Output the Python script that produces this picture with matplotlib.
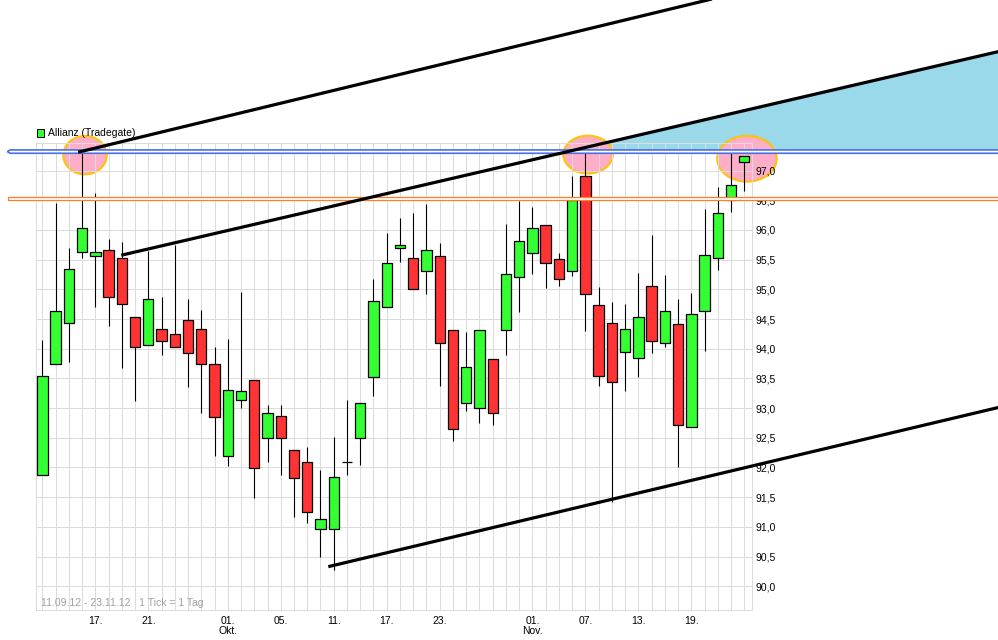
import matplotlib
matplotlib.use("Agg")
import matplotlib.pyplot as plt
from matplotlib.patches import Rectangle, Ellipse, Polygon
import numpy as np

# ---- Allianz (Tradegate), daily candles 11.09.12 - 23.11.12 ----
dates = [
    "11.09.", "12.09.", "13.09.", "14.09.", "17.09.", "18.09.", "19.09.", "20.09.", "21.09.",
    "24.09.", "25.09.", "26.09.", "27.09.", "28.09.",
    "01.10.", "02.10.", "03.10.", "04.10.", "05.10.", "08.10.", "09.10.", "10.10.", "11.10.",
    "12.10.", "15.10.", "16.10.", "17.10.", "18.10.", "19.10.", "22.10.", "23.10.", "24.10.",
    "25.10.", "26.10.", "29.10.", "30.10.", "31.10.",
    "01.11.", "02.11.", "05.11.", "06.11.", "07.11.", "08.11.", "09.11.", "12.11.", "13.11.",
    "14.11.", "15.11.", "16.11.", "19.11.", "20.11.", "21.11.", "22.11.", "23.11.",
]
open_ = [
    91.88, 93.74, 94.43, 95.63, 95.56, 95.66, 95.53, 94.54, 94.07,
    94.34, 94.25, 94.49, 94.34, 93.74,
    92.19, 93.13, 93.48, 92.50, 92.86, 92.30, 92.09, 90.97, 90.96,
    92.10, 92.50, 93.52, 94.70, 95.70, 95.53, 95.31, 95.57, 94.31,
    93.09, 93.01, 93.82, 94.31, 95.20,
    95.62, 96.09, 95.51, 95.31, 96.91, 94.73, 94.44, 93.95, 93.85,
    95.05, 94.09, 94.42, 92.69, 94.64, 95.53, 96.51, 97.14,
]
high = [
    94.14, 96.46, 95.69, 97.31, 96.62, 95.84, 95.79, 94.54, 95.65,
    94.87, 95.74, 94.83, 94.65, 94.03,
    94.17, 94.96, 93.48, 93.05, 93.06, 92.30, 92.34, 91.95, 92.51,
    93.13, 93.09, 95.18, 95.95, 96.20, 96.29, 96.44, 95.78, 94.31,
    94.29, 94.31, 93.82, 96.10, 96.49,
    96.39, 96.09, 95.61, 96.91, 97.33, 95.04, 94.79, 94.75, 95.28,
    95.92, 95.24, 94.84, 94.94, 96.35, 96.72, 97.29, 97.25,
]
low = [
    91.88, 93.74, 93.77, 95.53, 94.71, 94.38, 93.67, 93.12, 94.07,
    93.89, 94.03, 93.36, 92.91, 92.20,
    92.02, 93.00, 91.48, 92.09, 91.88, 91.17, 91.07, 90.49, 90.27,
    91.88, 92.05, 93.21, 94.70, 95.46, 95.01, 94.92, 93.38, 92.44,
    92.95, 92.75, 92.71, 93.90, 94.62,
    95.26, 95.02, 95.05, 95.23, 94.30, 93.38, 91.42, 93.28, 93.53,
    93.93, 94.03, 92.01, 92.69, 93.96, 95.32, 96.30, 96.66,
]
close = [
    93.54, 94.64, 95.34, 96.04, 95.63, 94.87, 94.75, 94.03, 94.83,
    94.13, 94.03, 93.93, 93.74, 92.85,
    93.30, 93.28, 91.99, 92.92, 92.50, 91.83, 91.25, 91.13, 91.84,
    92.10, 93.09, 94.81, 95.45, 95.74, 95.01, 95.67, 94.09, 92.65,
    93.69, 94.31, 92.91, 95.26, 95.81,
    96.04, 95.45, 95.17, 96.51, 94.93, 93.54, 93.44, 94.34, 94.54,
    94.13, 94.64, 92.72, 94.59, 95.58, 96.28, 96.75, 97.25,
]

# labelled dates on the time axis
tick_dates = ["17.09.", "21.09.", "01.10.", "05.10.", "11.10.", "17.10.", "23.10.",
              "01.11.", "07.11.", "13.11.", "19.11."]
tick_labels = ["17.", "21.", "01.\nOkt.", "05.", "11.", "17.", "23.",
               "01.\nNov.", "07.", "13.", "19."]
price_ticks = [90.0, 90.5, 91.0, 91.5, 92.0, 92.5, 93.0, 93.5,
               94.0, 94.5, 95.0, 95.5, 96.0, 96.5, 97.0]

# drawing tools: trend lines as (day index, price) anchor pairs
trend_upper = [(2.70, 97.31), (55.0, 100.13)]
trend_middle = [(5.96, 95.575), (75.0, 99.15)]
trend_lower = [(21.59, 90.33), (75.0, 93.16)]
resistance_level = 97.32
support_level = 96.53
# highlight circles: (centre day, centre price, width in days, height in price)
highlights = [(3.22, 97.26, 3.27, 0.645),
              (41.2, 97.27, 3.72, 0.635),
              (53.2, 97.20, 4.48, 0.77)]

GREEN = "#33ff33"
RED = "#ff3333"
GRID = "#dcdcdc"
FONT = "Liberation Sans"

W, H = 998, 640
fig = plt.figure(figsize=(W / 100, H / 100), dpi=100)
fig.patch.set_facecolor("white")
ax_l, ax_r, ax_t, ax_b = 36, 752, 142.7, 610
ax = fig.add_axes([ax_l / W, (H - ax_b) / H, (ax_r - ax_l) / W, (ax_b - ax_t) / H])
ax.set_xlim(-0.48, 53.58)
ax.set_ylim(89.6, 97.47)

x = np.arange(len(dates))

# grid: one vertical line per trading day, horizontal every 0.5
ax.set_xticks(x, minor=True)
ax.set_xticks([dates.index(d) for d in tick_dates])
ax.set_xticklabels(tick_labels, fontsize=7.5, family=FONT, linespacing=0.95)
ax.set_yticks(price_ticks)
ax.set_yticklabels([f"{v:.1f}".replace(".", ",") for v in price_ticks],
                   fontsize=7.5, family=FONT)
ax.yaxis.tick_right()
ax.tick_params(axis="both", which="both", length=0)
ax.tick_params(axis="x", pad=4.3)
ax.tick_params(axis="y", pad=2.5)
ax.set_axisbelow(True)
ax.grid(True, which="both", axis="x", color=GRID, lw=0.75)
ax.grid(True, which="major", axis="y", color=GRID, lw=0.75)
for s in ax.spines.values():
    s.set_color(GRID)
    s.set_linewidth(0.75)

# candles
body_w = 0.78
for i in x:
    o, h, l, c = open_[i], high[i], low[i], close[i]
    ax.plot([i, i], [l, h], color="black", lw=0.8, zorder=2, solid_capstyle="butt")
    col = GREEN if c >= o else RED
    ax.add_patch(Rectangle((i - body_w / 2, min(o, c)), body_w, abs(c - o),
                           facecolor=col, edgecolor="black", lw=0.9, zorder=3))


def line_at(seg, xv):
    (x0, y0), (x1, y1) = seg
    return y0 + (y1 - y0) * (xv - x0) / (x1 - x0)


# shaded zone above the resistance line, below the middle trend line
half = 0.028
zone_bottom = resistance_level + half + 0.005
x_cross = trend_middle[0][0] + (zone_bottom - trend_middle[0][1]) * \
    (trend_middle[1][0] - trend_middle[0][0]) / (trend_middle[1][1] - trend_middle[0][1])
x_far = trend_middle[1][0]
ax.add_patch(Polygon([(x_cross, zone_bottom), (x_far, zone_bottom),
                      (x_far, line_at(trend_middle, x_far))], closed=True,
                     facecolor="#99d9ea", edgecolor="none", zorder=0.3, clip_on=False))

# highlight circles
for cx, cy, w, h in highlights:
    ax.add_patch(Ellipse((cx, cy), w, h, facecolor="#ffaec9", edgecolor="#ffc20e",
                         lw=1.6, zorder=0.4, clip_on=False))

# horizontal levels drawn as hollow bands
x_left = -2.59
ax.add_patch(Polygon([(x_left, support_level + half), (80, support_level + half),
                      (80, support_level - half), (x_left, support_level - half)],
                     closed=True, facecolor="white", edgecolor="#ff7f27", lw=0.9,
                     zorder=4, clip_on=False))
ax.add_patch(Polygon([(x_left + 0.15, resistance_level + half),
                      (80, resistance_level + half),
                      (80, resistance_level - half),
                      (x_left + 0.15, resistance_level - half),
                      (x_left - 0.05, resistance_level)],
                     closed=True, facecolor="white", edgecolor="#4b6fe6", lw=1.2,
                     zorder=4, clip_on=False))

# trend lines
for seg in (trend_upper, trend_middle, trend_lower):
    (x0, y0), (x1, y1) = seg
    ax.plot([x0, x1], [y0, y1], color="black", lw=2.3, zorder=5,
            solid_capstyle="butt", clip_on=False)

# legend entry above the plot
fig.patches.append(Rectangle((37 / W, 1 - 136.5 / H), 7 / W, 7 / H,
                             transform=fig.transFigure, facecolor=GREEN,
                             edgecolor="black", lw=0.7))
fig.text(48 / W, 1 - 133 / H, "Allianz (Tradegate)", fontsize=7.5, family=FONT,
         va="center", ha="left")

# period note inside the plot
ax.text((41 - ax_l) / (ax_r - ax_l), (ax_b - 603) / (ax_b - ax_t),
        "11.09.12 - 23.11.12   1 Tick = 1 Tag", transform=ax.transAxes,
        fontsize=7.5, family=FONT, color="#a0a0a0", va="center", ha="left", zorder=6)

fig.savefig("out.png", dpi=100)
